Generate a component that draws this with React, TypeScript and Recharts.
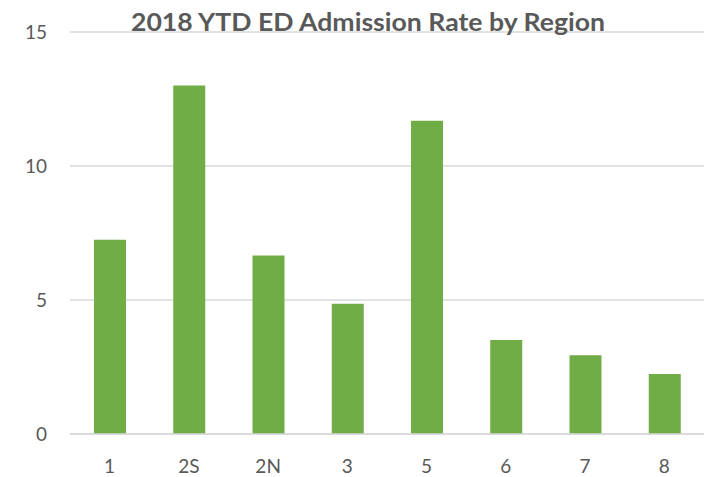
import { BarChart, Bar, XAxis, YAxis, CartesianGrid } from 'recharts';

const regions = ['1', '2S', '2N', '3', '5', '6', '7', '8'];
const admissionRates = [7.25, 13.0, 6.66, 4.86, 11.69, 3.51, 2.94, 2.24];
const yTicks = [0, 5, 10, 15];

const data = regions.map((region, i) => ({
  region,
  rate: admissionRates[i],
}));

const textColor = '#595959';
const font = 'Lato, "Open Sans", sans-serif';

const App = () => {
  return (
    <div style={{ position: 'absolute', left: 0, top: 0, width: 726, height: 477 }}>
      <BarChart
        width={726}
        height={477}
        data={data}
        margin={{ top: 32, right: 22, bottom: 0, left: 0 }}
      >
        <CartesianGrid vertical={false} stroke="#d9d9d9" strokeWidth={1.5} />
        <XAxis
          dataKey="region"
          height={43}
          tickSize={0}
          tickMargin={26}
          axisLine={{ stroke: '#d9d9d9', strokeWidth: 1.5 }}
          tick={{ fill: textColor, fontSize: 19, fontFamily: font }}
        />
        <YAxis
          width={70}
          domain={[0, 15]}
          ticks={yTicks}
          tickSize={0}
          tickMargin={23}
          axisLine={false}
          tick={{ fill: textColor, fontSize: 19, fontFamily: font }}
        />
        <Bar dataKey="rate" fill="#70AD47" barSize={32} isAnimationActive={false} />
      </BarChart>
      <svg
        width={726}
        height={477}
        style={{ position: 'absolute', left: 0, top: 0, pointerEvents: 'none' }}
      >
        <text
          x={368}
          y={31}
          textAnchor="middle"
          fill={textColor}
          fontSize={25}
          fontWeight="bold"
          fontFamily={font}
          textLength={474}
          lengthAdjust="spacingAndGlyphs"
        >
          2018 YTD ED Admission Rate by Region
        </text>
      </svg>
    </div>
  );
};

export default App;
